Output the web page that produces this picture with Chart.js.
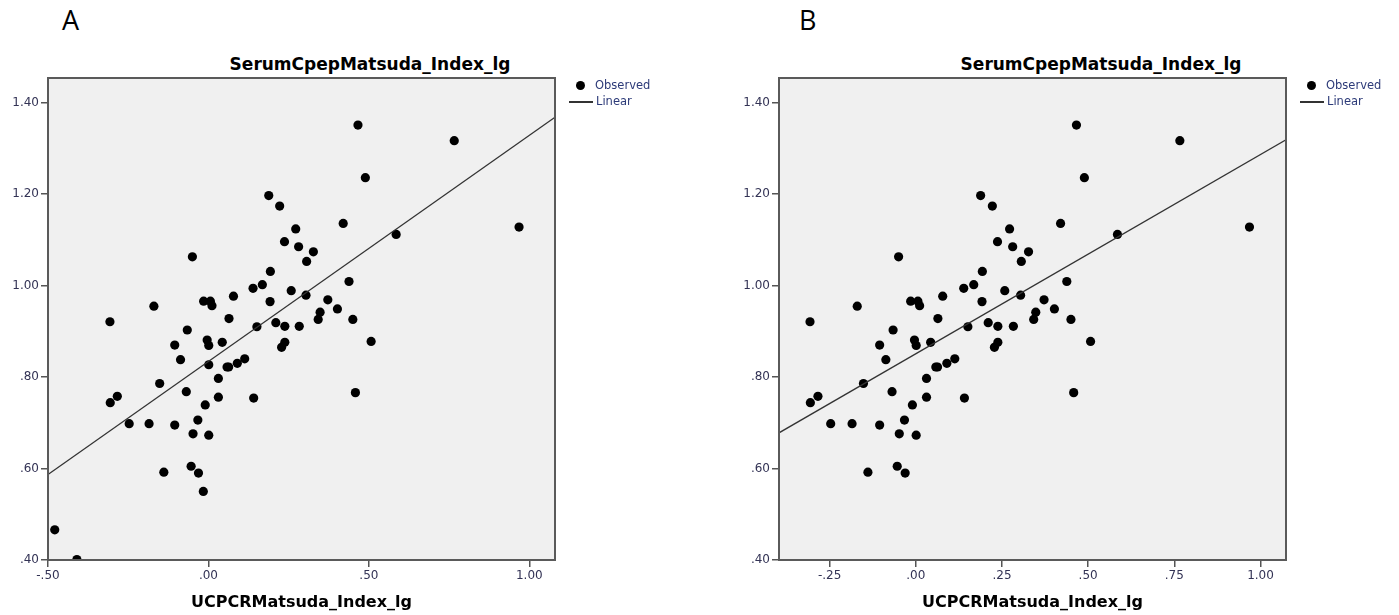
<!DOCTYPE html>
<html>
<head>
<meta charset="utf-8">
<script src="https://cdn.jsdelivr.net/npm/chart.js@4.4.1/dist/chart.umd.min.js"></script>
<style>
body { margin: 0; background: #fff; width: 1399px; height: 615px; position: relative; overflow: hidden; font-family: "DejaVu Sans", sans-serif; }
.panel { position: absolute; top: 0; }
.letter { position: absolute; top: 0; font: 27px "Open Sans", sans-serif; color: #000; line-height: 40px; }
.title { position: absolute; top: 54px; font: bold 17px "DejaVu Sans", sans-serif; line-height: 20px; transform: translateX(-50%); white-space: nowrap; color: #000; }
.legend { position: absolute; top: 78px; width: 100px; height: 40px; font: 11.5px "DejaVu Sans", sans-serif; color: #2c3a78; }
.legend .dot { position: absolute; left: 7px; top: 2.5px; width: 9px; height: 9px; border-radius: 50%; background: #000; }
.legend .dash { position: absolute; left: 0; top: 23px; width: 24px; height: 1.5px; background: #333; }
.legend span { position: absolute; line-height: 14px; white-space: nowrap; }
</style>
</head>
<body>
<div class="letter" style="left:62px">A</div>
<div class="letter" style="left:799px">B</div>
<div class="title" style="left:370px">SerumCpepMatsuda_Index_lg</div>
<div class="title" style="left:1101px">SerumCpepMatsuda_Index_lg</div>

<div class="panel" style="left:0px"><canvas id="chartA" width="700" height="615"></canvas></div>
<div class="panel" style="left:730px"><canvas id="chartB" width="669" height="615"></canvas></div>

<div class="legend" style="left:569px">
  <div class="dot"></div><span style="left:26px;top:0">Observed</span>
  <div class="dash"></div><span style="left:27px;top:16px">Linear</span>
</div>
<div class="legend" style="left:1300px">
  <div class="dot"></div><span style="left:26px;top:0">Observed</span>
  <div class="dash"></div><span style="left:27px;top:16px">Linear</span>
</div>

<script>
// points shown in both panels
const xCommon = [-0.307, -0.306, -0.284, -0.247, -0.185, -0.170, -0.152, -0.139, -0.105, -0.105,
  -0.087, -0.069, -0.066, -0.054, -0.050, -0.048, -0.033, -0.031, -0.015, -0.010,
  -0.004, 0.001, 0.001, 0.006, 0.011, 0.031, 0.031, 0.043, 0.058, 0.063,
  0.064, 0.078, 0.090, 0.113, 0.139, 0.141, 0.151, 0.168, 0.188, 0.192,
  0.193, 0.210, 0.222, 0.228, 0.237, 0.238, 0.238, 0.258, 0.272, 0.281,
  0.283, 0.304, 0.306, 0.327, 0.342, 0.348, 0.372, 0.402, 0.420, 0.438,
  0.450, 0.458, 0.466, 0.489, 0.507, 0.585, 0.766, 0.968];
const yCommon = [0.921, 0.744, 0.758, 0.698, 0.698, 0.955, 0.786, 0.592, 0.870, 0.695,
  0.838, 0.768, 0.903, 0.605, 1.063, 0.676, 0.706, 0.590, 0.966, 0.739,
  0.881, 0.869, 0.673, 0.966, 0.956, 0.797, 0.756, 0.876, 0.822, 0.822,
  0.928, 0.977, 0.830, 0.840, 0.994, 0.754, 0.910, 1.002, 1.197, 0.965,
  1.031, 0.919, 1.174, 0.865, 1.096, 0.911, 0.876, 0.989, 1.124, 1.085,
  0.911, 0.979, 1.053, 1.074, 0.926, 0.942, 0.969, 0.949, 1.136, 1.009,
  0.926, 0.766, 1.351, 1.236, 0.878, 1.112, 1.317, 1.128];

// points only in panel A
const xOnlyA = [-0.479, -0.410, -0.016, 0.001];
const yOnlyA = [0.466, 0.401, 0.550, 0.827];

// fitted lines (ends at the plot edges)
const lineAx = [-0.5, 1.08];
const lineAy = [0.587, 1.368];
const lineBx = [-0.397, 1.074];
const lineBy = [0.678, 1.319];

// axis ranges
const xRangeA = [-0.5, 1.08];
const xRangeB = [-0.397, 1.074];
const yRange = [0.40, 1.454];
const xStepA = 0.5;
const xStepB = 0.25;
const yStep = 0.2;

const toPoints = (xs, ys) => xs.map((x, i) => ({ x: x, y: ys[i] }));
const spssLabel = v => Number(v).toFixed(2).replace(/^(-?)0\./, '$1.');

const plotFrame = {
    id: 'plotFrame',
    beforeDraw(chart) {
        const a = chart.chartArea, ctx = chart.ctx;
        ctx.save();
        ctx.fillStyle = '#f0f0f0';
        ctx.fillRect(a.left, a.top, a.right - a.left, a.bottom - a.top);
        ctx.restore();
    },
    afterDraw(chart) {
        const a = chart.chartArea, ctx = chart.ctx;
        ctx.save();
        ctx.strokeStyle = '#5a5a5a';
        ctx.lineWidth = 2;
        ctx.strokeRect(a.left, a.top, a.right - a.left, a.bottom - a.top);
        ctx.restore();
    }
};

Chart.defaults.font.family = '"DejaVu Sans", sans-serif';

function makeChart(id, points, lineX, lineY, xRange, xStep, yAxisWidth, rightPad) {
    new Chart(document.getElementById(id), {
        type: 'scatter',
        data: {
            datasets: [{
                label: 'Linear',
                type: 'line',
                data: toPoints(lineX, lineY),
                borderColor: '#333',
                borderWidth: 1.3,
                pointRadius: 0,
                fill: false
            }, {
                label: 'Observed',
                data: points,
                backgroundColor: '#000',
                borderColor: '#000',
                borderWidth: 0,
                pointRadius: 4.6
            }]
        },
        options: {
            responsive: false,
            animation: false,
            layout: { padding: { left: 0, top: 78, right: rightPad, bottom: 0 } },
            plugins: { legend: { display: false }, tooltip: { enabled: false } },
            scales: {
                x: {
                    type: 'linear',
                    min: xRange[0],
                    max: xRange[1],
                    border: { display: false },
                    grid: { drawOnChartArea: false, tickLength: 7, color: '#555', lineWidth: 1.5 },
                    ticks: { stepSize: xStep, includeBounds: false, padding: 2, color: '#333355', font: { size: 12 }, callback: spssLabel },
                    title: { display: true, text: 'UCPCRMatsuda_Index_lg', color: '#000', font: { size: 16, weight: 'bold' }, padding: { top: 0, bottom: 3 } },
                    afterFit: s => { s.height = 55; }
                },
                y: {
                    type: 'linear',
                    min: yRange[0],
                    max: yRange[1],
                    border: { display: false },
                    grid: { drawOnChartArea: false, tickLength: 7, color: '#555', lineWidth: 1.5 },
                    ticks: { stepSize: yStep, includeBounds: false, padding: 2, color: '#333355', font: { size: 12 }, callback: spssLabel },
                    afterFit: s => { s.width = yAxisWidth; }
                }
            }
        },
        plugins: [plotFrame]
    });
}

makeChart('chartA', toPoints(xCommon.concat(xOnlyA), yCommon.concat(yOnlyA)), lineAx, lineAy, xRangeA, xStepA, 48, 145);
makeChart('chartB', toPoints(xCommon, yCommon), lineBx, lineBy, xRangeB, xStepB, 49, 113);
</script>
</body>
</html>
